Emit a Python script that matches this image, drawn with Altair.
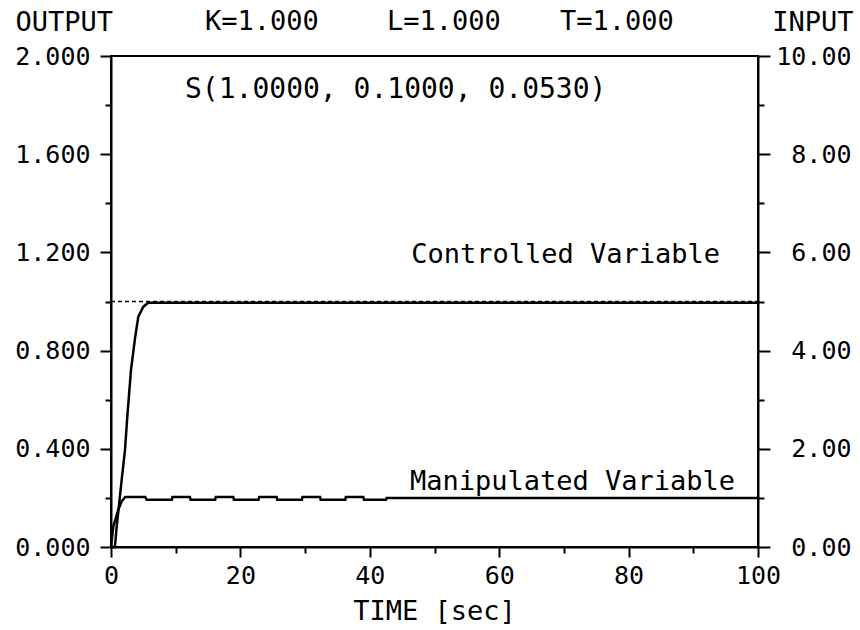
import altair as alt
import pandas as pd

# Controlled variable (OUTPUT, left axis 0..2)
cv_time = [0, 0.6, 0.88, 1.65, 2.16, 2.52, 3.09, 3.71, 4.22, 5.0, 5.77, 100]
cv_value = [0, 0, 0.083, 0.273, 0.395, 0.531, 0.721, 0.850, 0.938, 0.979, 0.995, 0.995]

# Set point (dashed)
sp_time = [0, 100]
sp_value = [1.0, 1.0]

# Manipulated variable (INPUT, right axis 0..10)
mv_time = [0, 0.36, 1.13, 1.65, 2.2, 5.3, 5.5, 9.4, 9.5, 12.2, 12.3, 16.1, 16.2, 18.9,
           19.0, 22.8, 22.9, 25.6, 25.7, 29.5, 29.6, 32.3, 32.4, 36.2, 36.3, 39.0,
           39.1, 42.5, 42.6, 100]
mv_value = [0, 0.42, 0.76, 0.93, 1.02, 1.02, 0.96, 0.96, 1.02, 1.02, 0.96, 0.96, 1.02, 1.02,
            0.96, 0.96, 1.02, 1.02, 0.96, 0.96, 1.02, 1.02, 0.96, 0.96, 1.02, 1.02,
            0.96, 0.96, 1.0, 1.0]

x_ticks = [0, 10, 20, 30, 40, 50, 60, 70, 80, 90, 100]
left_ticks = [0, 0.2, 0.4, 0.6, 0.8, 1.0, 1.2, 1.4, 1.6, 1.8, 2.0]
right_ticks = [0, 1, 2, 3, 4, 5, 6, 7, 8, 9, 10]

header_texts = ["K=1.000", "L=1.000", "T=1.000"]
param_text = "S(1.0000, 0.1000, 0.0530)"
cv_label = "Controlled Variable"
mv_label = "Manipulated Variable"

FONT = "DejaVu Sans Mono"

cv_df = pd.DataFrame({"t": cv_time, "v": cv_value})
sp_df = pd.DataFrame({"t": sp_time, "v": sp_value})
mv_df = pd.DataFrame({"t": mv_time, "v": mv_value})

xscale = alt.Scale(domain=[0, 100], nice=False, zero=False)
yleft = alt.Scale(domain=[0, 2], nice=False)
yright = alt.Scale(domain=[0, 10], nice=False)

x_axis = alt.Axis(
    values=x_ticks,
    labelExpr="datum.value % 20 === 0 ? format(datum.value, 'd') : ''",
    tickSize={"condition": {"test": "datum.value % 20 === 0", "value": 10}, "value": 6},
    labelPadding=6,
    title="TIME [sec]",
    titleX=323,
    titleY=64,
    titleBaseline="middle",
    titleAlign="center",
)

left_axis = alt.Axis(
    values=left_ticks,
    labelExpr="round(datum.value * 10) % 4 === 0 ? format(datum.value, '.3f') : ''",
    tickSize={"condition": {"test": "round(datum.value * 10) % 4 === 0", "value": 11}, "value": 6},
    labelPadding=10,
    title="OUTPUT",
    titleAngle=0,
    titleAlign="left",
    titleBaseline="middle",
    titleX=-96,
    titleY=-34,
)

right_axis = alt.Axis(
    orient="right",
    values=right_ticks,
    labelExpr="round(datum.value) % 2 === 0 ? format(datum.value, '.2f') : ''",
    tickSize={"condition": {"test": "round(datum.value) % 2 === 0", "value": 12}, "value": 6},
    labelAlign="right",
    labelPadding=81,
    title="INPUT",
    titleAngle=0,
    titleAlign="right",
    titleBaseline="middle",
    titleX=95,
    titleY=-34,
)

cv_line = alt.Chart(cv_df).mark_line(color="black", strokeWidth=2.5).encode(
    x=alt.X("t:Q", scale=xscale, axis=x_axis),
    y=alt.Y("v:Q", scale=yleft, axis=left_axis),
)

sp_line = alt.Chart(sp_df).mark_line(color="black", strokeWidth=1.5, strokeDash=[4, 3]).encode(
    x=alt.X("t:Q", scale=xscale),
    y=alt.Y("v:Q", scale=yleft),
)

text_style = dict(font=FONT, fontSize=27, color="black")

cv_text = alt.Chart().mark_text(align="right", baseline="alphabetic", **text_style).encode(
    x=alt.value(609), y=alt.value(207), text=alt.value(cv_label)
)
mv_text = alt.Chart().mark_text(align="right", baseline="alphabetic", **text_style).encode(
    x=alt.value(624), y=alt.value(434), text=alt.value(mv_label)
)
k_text = alt.Chart().mark_text(align="left", baseline="middle", **text_style).encode(
    x=alt.value(94), y=alt.value(-34), text=alt.value(header_texts[0])
)
l_text = alt.Chart().mark_text(align="left", baseline="middle", **text_style).encode(
    x=alt.value(276), y=alt.value(-34), text=alt.value(header_texts[1])
)
t_text = alt.Chart().mark_text(align="left", baseline="middle", **text_style).encode(
    x=alt.value(449), y=alt.value(-34), text=alt.value(header_texts[2])
)
s_text = alt.Chart().mark_text(align="left", baseline="middle", font=FONT, fontSize=28,
                               color="black").encode(
    x=alt.value(74), y=alt.value(34), text=alt.value(param_text)
)

left_layer = alt.layer(sp_line, cv_line)

mv_line = alt.Chart(mv_df).mark_line(color="black", strokeWidth=2.5).encode(
    x=alt.X("t:Q", scale=xscale),
    y=alt.Y("v:Q", scale=yright, axis=right_axis),
)

chart = alt.layer(
    left_layer, mv_line, cv_text, mv_text, k_text, l_text, t_text, s_text
).resolve_scale(y="independent").properties(
    width=647,
    height=491,
    autosize=alt.AutoSizeParams(type="none"),
    padding={"left": 111, "top": 56, "right": 102, "bottom": 83},
    background="white",
).configure_view(
    stroke="black", strokeWidth=2
).configure_axis(
    domainColor="black",
    domainWidth=2,
    tickColor="black",
    tickWidth=2,
    grid=False,
    labelFont=FONT,
    labelFontSize=25,
    labelColor="black",
    titleFont=FONT,
    titleFontSize=27,
    titleFontWeight="normal",
    titleColor="black",
    labelOverlap=False,
    labelFlush=False,
)

chart.save("out.html", embed_options={"renderer": "svg", "actions": False})
